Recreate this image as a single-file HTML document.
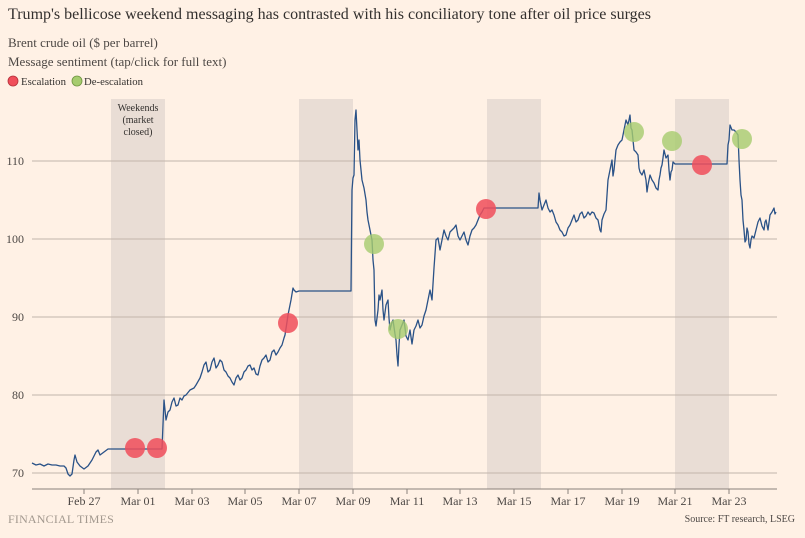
<!DOCTYPE html>
<html><head><meta charset="utf-8"><style>
html,body{margin:0;padding:0;background:#fff1e5;}
body{width:805px;height:533px;overflow:hidden;font-family:"Liberation Serif",serif;}
</style></head><body>
<svg width="805" height="533" xmlns="http://www.w3.org/2000/svg" font-family="Liberation Serif, serif">
<rect width="805" height="533" fill="#fff1e5"/>
<text x="8" y="19" font-size="16" fill="#33302e" textLength="643" lengthAdjust="spacingAndGlyphs">Trump's bellicose weekend messaging has contrasted with his conciliatory tone after oil price surges</text>
<text x="8" y="47" font-size="13" fill="#4d4845">Brent crude oil ($ per barrel)</text>
<text x="8" y="66" font-size="13" fill="#4d4845">Message sentiment (tap/click for full text)</text>
<circle cx="13" cy="81" r="5" fill="#f04e5a" stroke="#b3303a" stroke-width="0.8"/>
<text x="21" y="85" font-size="11" fill="#33302e" textLength="45" lengthAdjust="spacingAndGlyphs">Escalation</text>
<circle cx="77" cy="81" r="5" fill="#a6cc6e" stroke="#6f9440" stroke-width="0.8"/>
<text x="84" y="85" font-size="11" fill="#33302e" textLength="59" lengthAdjust="spacingAndGlyphs">De-escalation</text>
<g fill="#e9ddd5">
<rect x="111" y="99" width="54" height="390"/>
<rect x="299" y="99" width="54" height="390"/>
<rect x="487" y="99" width="54" height="390"/>
<rect x="675" y="99" width="54" height="390"/>
</g>
<text font-size="10" fill="#33302e" text-anchor="middle"><tspan x="138" y="111">Weekends</tspan><tspan x="138" y="123">(market</tspan><tspan x="138" y="135">closed)</tspan></text>
<g stroke="#c2b5ac" stroke-width="1">
<line x1="32" y1="161" x2="777" y2="161"/>
<line x1="32" y1="239" x2="777" y2="239"/>
<line x1="32" y1="317" x2="777" y2="317"/>
<line x1="32" y1="395" x2="777" y2="395"/>
<line x1="32" y1="473" x2="777" y2="473"/>
</g>
<line x1="32" y1="489" x2="777" y2="489" stroke="#8a817b"/>
<g font-size="12" fill="#4d4845" text-anchor="end">
<text x="24" y="165">110</text><text x="24" y="243">100</text><text x="24" y="321">90</text><text x="24" y="399">80</text><text x="24" y="477">70</text>
</g>
<g stroke="#8a817b">
<line x1="84" y1="489" x2="84" y2="494"/><line x1="138" y1="489" x2="138" y2="494"/><line x1="192" y1="489" x2="192" y2="494"/><line x1="245" y1="489" x2="245" y2="494"/><line x1="299" y1="489" x2="299" y2="494"/><line x1="353" y1="489" x2="353" y2="494"/><line x1="407" y1="489" x2="407" y2="494"/><line x1="460" y1="489" x2="460" y2="494"/><line x1="514" y1="489" x2="514" y2="494"/><line x1="568" y1="489" x2="568" y2="494"/><line x1="622" y1="489" x2="622" y2="494"/><line x1="675" y1="489" x2="675" y2="494"/><line x1="729" y1="489" x2="729" y2="494"/>
</g>
<g font-size="12" fill="#4d4845" text-anchor="middle">
<text x="84" y="505">Feb 27</text><text x="138" y="505">Mar 01</text><text x="192" y="505">Mar 03</text><text x="245" y="505">Mar 05</text><text x="299" y="505">Mar 07</text><text x="353" y="505">Mar 09</text><text x="407" y="505">Mar 11</text><text x="460" y="505">Mar 13</text><text x="514" y="505">Mar 15</text><text x="568" y="505">Mar 17</text><text x="622" y="505">Mar 19</text><text x="675" y="505">Mar 21</text><text x="729" y="505">Mar 23</text>
</g>
<polyline fill="none" stroke="#2a5287" stroke-width="1.3" stroke-linejoin="round" points="32,463 36,465 40,464 44,466 48,464 52,465 56,465 60,466 64,466 66,468 68,474 70,476 72,474 74,460 75,455 77,462 80,466 84,469 88,466 92,460 96,452 98,450 100,455 104,452 108,449 111,449 162,449 164,400 166,420 168,412 170,410 172,402 174,398 176,406 178,405 180,398 182,400 184,396 186,395 190,390 194,388 196,385 200,378 202,372 204,365 206,362 208,372 210,370 212,362 214,358 216,368 218,365 220,360 222,362 224,370 226,372 228,376 230,378 232,382 234,385 236,378 238,375 240,380 242,378 244,372 246,370 248,366 250,365 252,370 254,368 256,374 258,375 260,366 262,360 264,358 266,355 268,362 270,360 272,352 274,350 276,355 278,352 280,348 282,345 284,338 285,335 287,322 288,315 290,305 291,300 293,288 294,290 296,292 299,291 351,291 352,190 353,178 354,175 355,120 356,110 357,130 358,150 359,140 360,160 361,170 362,180 364,188 366,200 367,212 368,220 370,230 372,240 373,260 374,270 375,320 376,326 378,310 379,295 380,300 382,290 383,310 384,320 386,305 388,300 389,318 390,330 392,322 393,320 395,334 396,340 397,355 398,366 399,345 400,330 402,325 404,320 406,336 408,340 410,330 412,344 414,330 416,326 418,320 420,328 422,325 424,316 426,310 428,300 430,290 432,300 434,268 436,240 438,238 440,250 442,240 444,230 446,236 448,240 450,232 452,230 454,228 456,225 458,236 460,240 462,236 464,232 466,240 468,245 470,236 472,230 474,228 476,225 478,220 480,215 482,212 484,208 487,208 538,208 539,193 540,200 542,210 544,205 546,200 548,208 550,212 552,210 554,215 556,222 558,225 560,230 562,232 564,236 566,235 568,228 570,225 572,220 574,215 576,222 578,220 580,214 582,212 584,218 586,216 588,212 590,215 592,212 594,213 596,218 598,220 600,230 601,232 602,220 604,214 606,210 607,195 608,180 610,170 612,160 613,176 614,170 615,160 616,150 618,145 620,142 622,140 624,130 626,120 628,125 630,115 631,128 632,130 633,140 634,150 636,152 638,155 639,168 640,172 642,175 644,170 646,180 647,192 648,185 650,175 652,180 654,183 656,188 658,190 659,180 660,175 661,168 662,165 663,158 664,150 666,158 668,155 669,170 670,180 671,172 672,170 673,162 675,164 727,164 728,145 729,140 730,125 732,130 734,130 736,132 738,135 739,160 740,180 741,195 742,200 743,220 744,230 745,242 746,240 747,228 748,232 749,244 750,248 751,240 752,236 754,238 756,230 758,222 760,218 762,226 764,230 765,222 766,220 768,230 770,215 772,212 774,208 775,214 776,212"/>
<g fill="#f04e5a" fill-opacity="0.85">
<circle cx="135" cy="448" r="10"/><circle cx="157" cy="448" r="10"/><circle cx="288" cy="323" r="10"/><circle cx="486" cy="209" r="10"/><circle cx="702" cy="165" r="10"/>
</g>
<g fill="#a6cc6e" fill-opacity="0.8">
<circle cx="374" cy="244" r="10"/><circle cx="398" cy="329" r="10"/><circle cx="634" cy="132" r="10"/><circle cx="672" cy="141" r="10"/><circle cx="742" cy="139" r="10"/>
</g>
<text x="8" y="523" font-size="12" fill="#a3998f" letter-spacing="0.2">FINANCIAL TIMES</text>
<text x="795" y="522" font-size="10" fill="#4d4845" text-anchor="end">Source: FT research, LSEG</text>
</svg>
</body></html>
